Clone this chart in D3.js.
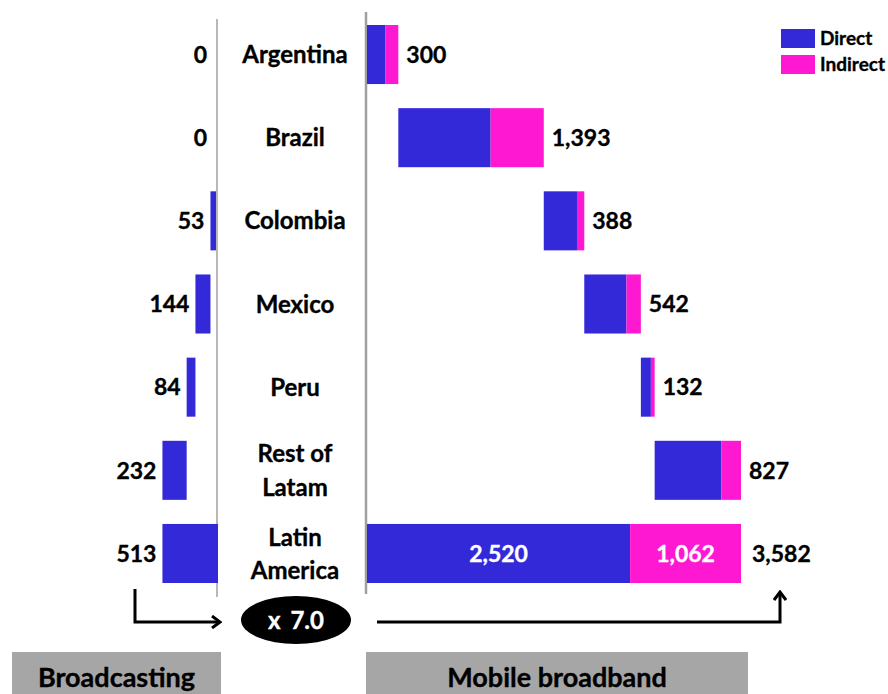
<!DOCTYPE html>
<html>
<head>
<meta charset="utf-8">
<script src="https://cdn.jsdelivr.net/npm/d3@7"></script>
<style>
  body { margin: 0; background: #fff; }
  svg { display: block; font-family: Lato, "Open Sans", sans-serif; font-weight: bold; }
  svg text { stroke: currentColor; stroke-width: 0.35px; }
</style>
</head>
<body>
<div id="chart"></div>
<script>
// 資料
const countries = ["Argentina", "Brazil", "Colombia", "Mexico", "Peru", "Rest of|Latam", "Latin|America"];
const broadcasting = [0, 0, 53, 144, 84, 232];
const mobileDirect = [178, 884, 318, 404, 96, 640];
const mobileIndirect = [122, 509, 70, 138, 36, 187];
const multiplierLabel = "x 7.0";
const panelTitles = ["Broadcasting", "Mobile broadband"];
const legendItems = ["Direct", "Indirect"];

const colors = { direct: "#3329D9", indirect: "#FF18D2", axis: "#A0A0A0", panel: "#A6A6A6" };
const fmt = d3.format(",");

const width = 888, height = 694;
const svg = d3.select("#chart").append("svg").attr("width", width).attr("height", height);

// 瀑布圖累計
const nRows = mobileDirect.length;
const bcTotal = d3.sum(broadcasting);
const mbDirectTotal = d3.sum(mobileDirect);
const mbIndirectTotal = d3.sum(mobileIndirect);
const mbTotal = mbDirectTotal + mbIndirectTotal;

let accR = 0, accL = 0;
const rows = countries.map((c, i) => {
  if (i < nRows) {
    const r = { country: c, start: accR, direct: mobileDirect[i], indirect: mobileIndirect[i],
                bStart: accL, bVal: broadcasting[i], total: false };
    accR += mobileDirect[i] + mobileIndirect[i];
    accL += broadcasting[i];
    return r;
  }
  return { country: c, start: 0, direct: mbDirectTotal, indirect: mbIndirectTotal,
           bStart: 0, bVal: bcTotal, total: true };
});

// 比例尺
const y = d3.scaleBand().domain(countries).range([25, 583]).paddingInner(0.29).paddingOuter(0);
const xR = d3.scaleLinear().domain([0, mbTotal]).range([367, 741]);
const xL = d3.scaleLinear().domain([0, mbTotal]).range([216, 216 - 374]);

// 軸線
svg.append("line").attr("x1", 217).attr("x2", 217).attr("y1", 19).attr("y2", 597)
  .attr("stroke", colors.axis).attr("stroke-width", 1.5);
svg.append("line").attr("x1", 366).attr("x2", 366).attr("y1", 12).attr("y2", 594)
  .attr("stroke", colors.axis).attr("stroke-width", 2.5);

// 左側：廣播
const left = svg.append("g");
left.selectAll("rect").data(rows.filter(d => d.bVal > 0)).join("rect")
  .attr("x", d => xL(d.bStart + d.bVal))
  .attr("width", d => xL(d.bStart) - xL(d.bStart + d.bVal) + (d.total ? 2 : 0))
  .attr("y", d => y(d.country))
  .attr("height", y.bandwidth())
  .attr("fill", colors.direct);
left.selectAll("text").data(rows).join("text")
  .attr("x", d => xL(d.bStart + d.bVal) - (d.bVal ? 6 : 9))
  .attr("y", d => y(d.country) + y.bandwidth() / 2)
  .attr("dy", "0.36em")
  .attr("text-anchor", "end")
  .style("font-size", "23px")
  .text(d => fmt(d.bVal));

// 中間：國家標籤
const labels = svg.append("g");
labels.selectAll("text").data(rows).join("text")
  .attr("x", 295)
  .attr("y", d => y(d.country) + y.bandwidth() / 2)
  .attr("text-anchor", "middle")
  .style("font-size", "24px")
  .each(function (d) {
    const parts = d.country.split("|");
    const t = d3.select(this);
    parts.forEach((p, k) => {
      t.append("tspan").attr("x", 295)
        .attr("dy", k === 0 ? ((0.36 - (parts.length - 1) * 0.69) + "em") : "1.38em")
        .text(p);
    });
  });

// 右側：行動寬頻
const right = svg.append("g");
right.selectAll("rect.direct").data(rows).join("rect")
  .attr("class", "direct")
  .attr("x", d => xR(d.start))
  .attr("width", d => xR(d.start + d.direct) - xR(d.start))
  .attr("y", d => y(d.country))
  .attr("height", y.bandwidth())
  .attr("fill", colors.direct);
right.selectAll("rect.indirect").data(rows).join("rect")
  .attr("class", "indirect")
  .attr("x", d => xR(d.start + d.direct))
  .attr("width", d => xR(d.start + d.direct + d.indirect) - xR(d.start + d.direct))
  .attr("y", d => y(d.country))
  .attr("height", y.bandwidth())
  .attr("fill", colors.indirect);
right.selectAll("text.total").data(rows).join("text")
  .attr("class", "total")
  .attr("x", d => xR(d.start + d.direct + d.indirect) + (d.total ? 11 : 8))
  .attr("y", d => y(d.country) + y.bandwidth() / 2)
  .attr("dy", "0.36em")
  .style("font-size", "23px")
  .text(d => fmt(d.direct + d.indirect));

// 總計列的內部標籤
const tot = rows[rows.length - 1];
right.append("text")
  .attr("x", (xR(0) + xR(tot.direct)) / 2)
  .attr("y", y(tot.country) + y.bandwidth() / 2).attr("dy", "0.36em")
  .attr("text-anchor", "middle").attr("fill", "#fff").style("color", "#fff").style("font-size", "23px")
  .text(fmt(tot.direct));
right.append("text")
  .attr("x", (xR(tot.direct) + xR(tot.direct + tot.indirect)) / 2)
  .attr("y", y(tot.country) + y.bandwidth() / 2).attr("dy", "0.36em")
  .attr("text-anchor", "middle").attr("fill", "#fff").style("color", "#fff").style("font-size", "23px")
  .text(fmt(tot.indirect));

// 圖例
const legend = svg.append("g");
legendItems.forEach((name, i) => {
  legend.append("rect").attr("x", 781).attr("y", 29 + i * 26).attr("width", 34).attr("height", 19)
    .attr("fill", i === 0 ? colors.direct : colors.indirect);
  legend.append("text").attr("x", 820).attr("y", 38.5 + i * 26).attr("dy", "0.36em")
    .style("font-size", "19px").text(name);
});

// 箭頭與倍數
const defs = svg.append("defs");
defs.append("marker")
  .attr("id", "chev").attr("viewBox", "-10 -7 12 14")
  .attr("refX", 0).attr("refY", 0)
  .attr("markerWidth", 12).attr("markerHeight", 14)
  .attr("markerUnits", "userSpaceOnUse")
  .attr("orient", "auto")
  .append("path").attr("d", "M-8,-6 L0,0 L-8,6")
  .attr("fill", "none").attr("stroke", "#000").attr("stroke-width", 3);

svg.append("path")
  .attr("d", "M135,589 L135,622 L220,622")
  .attr("fill", "none").attr("stroke", "#000").attr("stroke-width", 3)
  .attr("marker-end", "url(#chev)");
svg.append("path")
  .attr("d", "M377,622 L780,622 L780,592")
  .attr("fill", "none").attr("stroke", "#000").attr("stroke-width", 3)
  .attr("marker-end", "url(#chev)");

svg.append("ellipse").attr("cx", 296).attr("cy", 620).attr("rx", 55).attr("ry", 24).attr("fill", "#000");
svg.append("text").attr("x", 296).attr("y", 620).attr("dy", "0.36em")
  .attr("text-anchor", "middle").attr("fill", "#fff").style("color", "#fff").style("font-size", "24px")
  .style("word-spacing", "4px")
  .text(multiplierLabel);

// 面板標題
const panels = [[12, 221], [366, 748]];
panels.forEach((p, i) => {
  svg.append("rect").attr("x", p[0]).attr("y", 652).attr("width", p[1] - p[0]).attr("height", 42)
    .attr("fill", colors.panel);
  svg.append("text").attr("x", (p[0] + p[1]) / 2).attr("y", 677).attr("dy", "0.36em")
    .attr("text-anchor", "middle").style("font-size", "27px")
    .text(panelTitles[i]);
});
</script>
</body>
</html>
